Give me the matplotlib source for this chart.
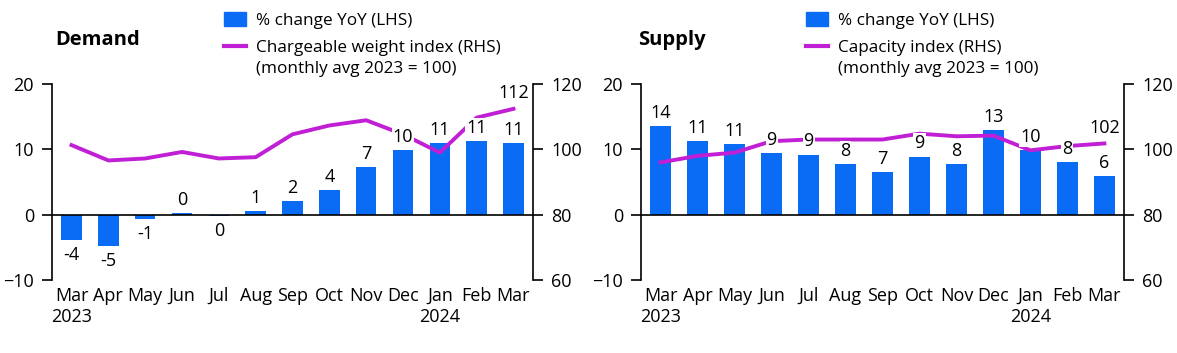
import numpy as np
import matplotlib
matplotlib.use("Agg")
import matplotlib.pyplot as plt
from matplotlib.patches import Patch
from matplotlib.lines import Line2D

plt.rcParams['font.family'] = ['Open Sans', 'DejaVu Sans']

# data
months = ["Mar", "Apr", "May", "Jun", "Jul", "Aug", "Sep", "Oct", "Nov", "Dec", "Jan", "Feb", "Mar"]
year_labels = {0: "2023", 10: "2024"}

demand_yoy = [-3.9, -4.8, -0.66, 0.3, -0.25, 0.56, 2.1, 3.7, 7.3, 9.9, 11.0, 11.25, 10.9]
demand_labels = ["-4", "-5", "-1", "0", "0", "1", "2", "4", "7", "10", "11", "11", "11"]
demand_index = [101.3, 96.6, 97.2, 99.2, 97.2, 97.6, 104.6, 107.3, 108.9, 104.6, 99.0, 109.7, 112.4]

supply_yoy = [13.6, 11.3, 10.8, 9.4, 9.2, 7.8, 6.5, 8.9, 7.8, 12.9, 9.9, 8.1, 5.9]
supply_labels = ["14", "11", "11", "9", "9", "8", "7", "9", "8", "13", "10", "8", "6"]
supply_index = [96.0, 98.0, 99.0, 102.5, 103.0, 103.0, 103.0, 104.8, 104.0, 104.2, 99.7, 101.0, 101.8]

BLUE = '#0a6cf5'
MAGENTA = '#c01fd6'
FS = 13

fig = plt.figure(figsize=(11.77, 3.53), dpi=100)
legends = []


def panel(rect, title, yoy, bar_labels, index, line_label, title_x, leg_x):
    ax = fig.add_axes(rect)
    x = np.arange(len(months))
    ax.bar(x, yoy, width=0.56, color=BLUE, zorder=2)
    ax.axhline(0, color='black', lw=1.2, zorder=3)
    ax.set_ylim(-10, 20)
    ax.set_yticks([-10, 0, 10, 20])
    ax.set_xlim(-0.53, 12.53)
    ax.set_xticks(x)
    xt = [m + ("\n" + year_labels[i] if i in year_labels else "") for i, m in enumerate(months)]
    ax.set_xticklabels(xt, fontsize=FS, linespacing=1.2)
    ax.tick_params(axis='x', length=0, pad=5)
    ax.tick_params(axis='y', labelsize=FS, length=7, width=1.2, pad=6)
    for s in ['top', 'bottom', 'right']:
        ax.spines[s].set_visible(False)
    ax.spines['left'].set_linewidth(1.2)

    ax2 = ax.twinx()
    ax2.set_ylim(60, 120)
    ax2.set_yticks([60, 80, 100, 120])
    ax2.plot(x, index, color=MAGENTA, lw=2.8, zorder=4)
    ax2.tick_params(axis='y', labelsize=FS, length=7, width=1.2, pad=6)
    for s in ['top', 'bottom', 'left']:
        ax2.spines[s].set_visible(False)
    ax2.spines['right'].set_linewidth(1.2)

    # bar labels drawn on the twin axis so they sit over the line
    for xi, v, lab in zip(x, yoy, bar_labels):
        yy = (v + 10) * 2 + 60
        up = v >= 0
        ax2.annotate(lab, (xi, yy), xytext=(0, 3 if up else -4),
                     textcoords='offset points', ha='center', va='bottom' if up else 'top',
                     fontsize=FS, bbox=dict(boxstyle='square,pad=0.05', fc='white', ec='none'),
                     zorder=5)
    ax2.annotate(f"{round(index[-1])}", (x[-1], index[-1]), xytext=(0, 5),
                 textcoords='offset points', ha='center', va='bottom', fontsize=FS, zorder=5)

    fig.text(title_x, 1 - 40 / 353, title, fontsize=14.5, fontweight='bold', va='center')
    handles = [Patch(color=BLUE), Line2D([0], [0], color=MAGENTA, lw=3)]
    labels = ["% change YoY (LHS)", line_label + " (RHS)"]
    leg = ax.legend(handles, labels, loc='upper left', bbox_to_anchor=(leg_x, 1 - 12 / 353),
                    bbox_transform=fig.transFigure, frameon=False, fontsize=12.3,
                    handlelength=1.3, handleheight=0.9, handletextpad=0.6, labelspacing=0.6,
                    borderpad=0, borderaxespad=0)
    legends.append(leg)
    return ax


panel([52 / 1177, 1 - 280 / 353, 481 / 1177, 196 / 353], "Demand", demand_yoy, demand_labels,
      demand_index, "Chargeable weight index", 55 / 1177, 224 / 1177)
panel([641 / 1177, 1 - 280 / 353, 483 / 1177, 196 / 353], "Supply", supply_yoy, supply_labels,
      supply_index, "Capacity index", 638 / 1177, 806 / 1177)

# second line of the line-series legend entry, aligned under its text
fig.canvas.draw()
inv = fig.transFigure.inverted()
for leg in legends:
    bb = leg.get_texts()[1].get_window_extent()
    x0, y0 = inv.transform((bb.x0, bb.y0))
    fig.text(x0, y0 - 5 / 353, "(monthly avg 2023 = 100)", fontsize=12.3, va='top', ha='left')

fig.savefig("out.png", dpi=100)
